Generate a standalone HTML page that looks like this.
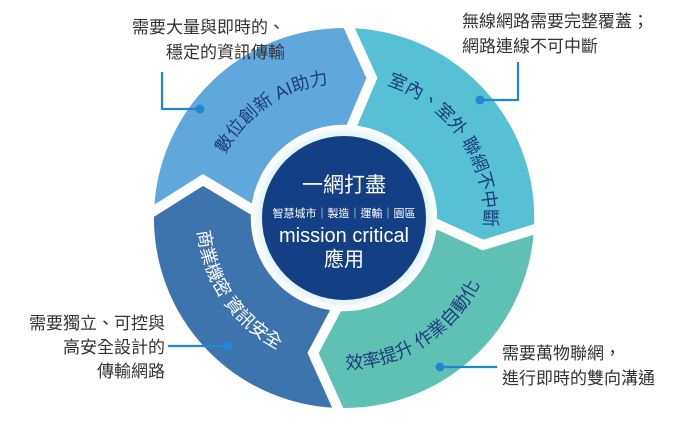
<!DOCTYPE html>
<html><head><meta charset="utf-8"><style>
html,body{margin:0;padding:0;background:#fff;}
svg{display:block;font-family:"Liberation Sans","Noto Sans CJK TC",sans-serif;}
</style></head><body>
<svg width="700" height="429" viewBox="0 0 700 429">
<defs>
<radialGradient id="glow" cx="50%" cy="50%" r="50%">
<stop offset="80%" stop-color="#cfeaf4"/>
<stop offset="92%" stop-color="#e8f6fa"/>
<stop offset="100%" stop-color="#ffffff"/>
</radialGradient>
<path id="cw1" d="M209,218 A135,135 0 1 1 479,218 A135,135 0 1 1 209,218"/>
<path id="cw2" d="M204,218 A140,140 0 1 1 484,218 A140,140 0 1 1 204,218"/>
<path id="ccw1" d="M193,218 A151,151 0 1 0 495,218 A151,151 0 1 0 193,218"/>
<path id="ccw2" d="M197,218 A147,147 0 1 0 491,218 A147,147 0 1 0 197,218"/>
</defs>
<g stroke="#fff" stroke-width="10" stroke-linejoin="miter">
<path fill="#60a8dc" d="M149,214 A195,195 0 0 1 347,23 L372,78 L350,130 A88,88 0 0 0 256,212 L203,180 Z"/>
<path fill="#56c0d5" d="M347,23 A195,195 0 0 1 539,228 L483,245 L432,222 A88,88 0 0 0 350,130 L372,78 Z"/>
<path fill="#5fc0b4" d="M539,228 A195,195 0 0 1 340,413 L313,353 L338,306 A88,88 0 0 0 432,222 L483,245 Z"/>
<path fill="#3e74ad" d="M340,413 A195,195 0 0 1 149,214 L203,180 L256,212 A88,88 0 0 0 338,306 L313,353 Z"/>
</g>
<circle cx="344" cy="218" r="92" fill="url(#glow)"/>
<circle cx="344" cy="218" r="82" fill="#133f85"/>
<g fill="#fff" text-anchor="middle">
<text x="344" y="192" font-size="21">一網打盡</text>
<text x="344" y="217" font-size="11">智慧城市｜製造｜運輸｜園區</text>
<text x="344" y="242" font-size="20">mission critical</text>
<text x="344" y="266" font-size="20">應用</text>
</g>
<g font-size="18">
<text fill="#1d3d7c" text-anchor="middle"><textPath href="#cw1" startOffset="15.5%">數位創新 AI助力</textPath></text>
<text fill="#1d3d7c" text-anchor="middle"><textPath href="#cw2" startOffset="40.5%">室內、室外 聯網不中斷</textPath></text>
<text fill="#1d3d7c" text-anchor="middle"><textPath href="#ccw1" startOffset="34%">效率提升 作業自動化</textPath></text>
<text fill="#ffffff" text-anchor="middle"><textPath href="#ccw2" startOffset="9.5%">商業機密 資訊安全</textPath></text>
</g>
<g stroke="#1e88d2" stroke-width="2.2" fill="none">
<polyline points="162,72 162,109 200,109"/>
<polyline points="518,62 518,100 480,100"/>
<polyline points="168,346 228,346"/>
<polyline points="440,367 497,367"/>
</g>
<g fill="#1e88d2">
<circle cx="200" cy="109" r="4.5"/>
<circle cx="480" cy="100" r="4.5"/>
<circle cx="228" cy="346" r="4.5"/>
<circle cx="440" cy="367" r="4.5"/>
</g>
<g fill="#333" font-size="17">
<text x="285" y="33" text-anchor="end">需要大量與即時的、</text>
<text x="285" y="58" text-anchor="end">穩定的資訊傳輸</text>
<text x="462" y="27">無線網路需要完整覆蓋；</text>
<text x="462" y="52">網路連線不可中斷</text>
<text x="165" y="329" text-anchor="end">需要獨立、可控與</text>
<text x="165" y="353" text-anchor="end">高安全設計的</text>
<text x="165" y="377" text-anchor="end">傳輸網路</text>
<text x="502" y="359">需要萬物聯網，</text>
<text x="502" y="384">進行即時的雙向溝通</text>
</g>
</svg>
</body></html>
